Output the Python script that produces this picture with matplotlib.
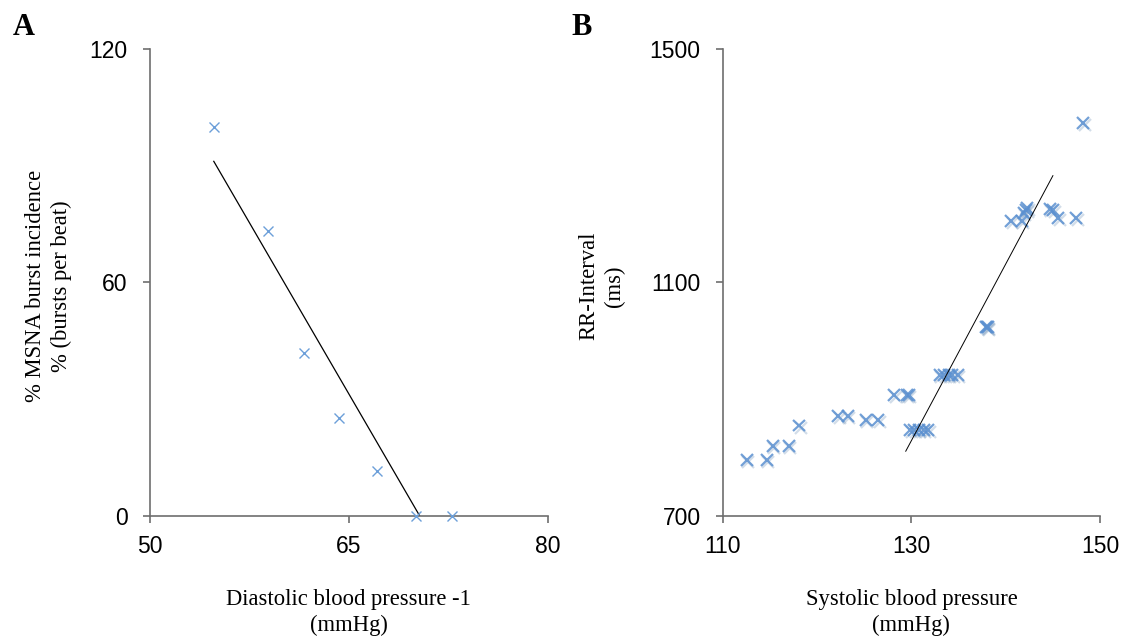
import numpy as np
import matplotlib
matplotlib.use("Agg")
from matplotlib import pyplot as plt
import matplotlib.patheffects as pe

# Panel A: diastolic pressure vs MSNA burst incidence
dbp = [54.81, 58.91, 61.6, 64.22, 67.13, 70.1, 72.75]
msna = [99.9, 73.3, 41.8, 25.1, 11.6, 0.0, 0.0]

# Panel B: systolic pressure vs RR-interval
sbp = [112.55, 114.67, 115.3, 117.0, 118.1, 122.26, 123.25, 125.16, 126.5,
       128.2, 129.5, 129.7, 129.9, 130.3, 130.8, 131.3, 131.8,
       132.99, 133.49, 133.95, 134.33, 134.9, 137.95, 138.05, 138.1,
       140.57, 141.72, 141.9, 142.18, 142.3, 144.67, 145.06, 145.56, 147.47, 148.24]
rri = [796, 796, 820, 820, 855, 872, 872, 865, 865,
       907, 907, 907, 847, 847, 847, 847, 847,
       942, 942, 942, 942, 942, 1024, 1023, 1024,
       1206, 1206, 1219, 1224, 1227, 1226, 1224, 1210, 1210, 1373]
# trendline end points as drawn in panel B
rri_fit_x = [129.4, 145.0]
rri_fit_y = [811, 1283]

a_xticks = [50, 65, 80]
a_yticks = [0, 60, 120]
b_xticks = [110, 130, 150]
b_yticks = [700, 1100, 1500]

SANS = ["Liberation Sans", "DejaVu Sans"]
SERIF = ["Liberation Serif", "DejaVu Serif"]
AXCOL = "#6e6e6e"


def StyleAxes(ax, xticks, yticks):
    """ Excel-like axes: left/bottom spines only, outward ticks """
    for side in ["top", "right"]:
        ax.spines[side].set_visible(False)
    for side in ["left", "bottom"]:
        ax.spines[side].set_color(AXCOL)
        ax.spines[side].set_linewidth(1.2)
    ax.set_xlim(xticks[0], xticks[-1])
    ax.set_ylim(yticks[0], yticks[-1])
    ax.set_xticks(xticks)
    ax.set_yticks(yticks)
    ax.tick_params(axis="both", direction="out", length=5, width=1.2, color=AXCOL,
                   labelsize=16.5)
    ax.tick_params(axis="x", pad=9)
    ax.tick_params(axis="y", pad=11)
    for lbl in ax.get_xticklabels() + ax.get_yticklabels():
        lbl.set_family(SANS)


fig = plt.figure(figsize=(11.27, 6.4), dpi=100)

# ---------------- Panel A ----------------
axA = fig.add_axes([0.1331, 0.19375, 0.3529, 0.7297])
StyleAxes(axA, a_xticks, a_yticks)
axA.plot(dbp, msna, linestyle="none", marker="x", markersize=6.8, mew=1.0,
         color="#6c9fd9", clip_on=False, zorder=3)
slope, icpt = np.polyfit(dbp, msna, 1)
fx = np.array([min(dbp), max(dbp)])
axA.plot(fx, slope*fx + icpt, color="black", lw=0.9, zorder=2)
axA.set_xlabel("Diastolic blood pressure -1\n(mmHg)", family=SERIF, fontsize=16.3,
               linespacing=1.3, va="center")
axA.xaxis.set_label_coords(0.5, -0.2068)
axA.set_ylabel("% MSNA burst incidence\n% (bursts per beat)", family=SERIF, fontsize=16.3,
               linespacing=1.3, va="center", ha="center")
axA.yaxis.set_label_coords(-0.2545, 0.492)

# ---------------- Panel B ----------------
axB = fig.add_axes([0.6413, 0.19375, 0.3348, 0.7297])
StyleAxes(axB, b_xticks, b_yticks)
axB.plot(sbp, rri, linestyle="none", marker="x", markersize=8.6, mew=1.6,
         color="#5b90d0", alpha=0.85, clip_on=False, zorder=3,
         path_effects=[pe.SimpleLineShadow(offset=(1, -1.5), shadow_color="#7f9fc0", alpha=0.35),
                       pe.Normal()])
axB.plot(rri_fit_x, rri_fit_y, color="black", lw=0.7, zorder=4)
axB.set_xlabel("Systolic blood pressure\n(mmHg)", family=SERIF, fontsize=16.3,
               linespacing=1.3, va="center")
axB.xaxis.set_label_coords(0.5, -0.2068)
axB.set_ylabel("RR-Interval\n(ms)", family=SERIF, fontsize=16.3,
               linespacing=1.3, va="center", ha="center")
axB.yaxis.set_label_coords(-0.3204, 0.492)

# panel letters
fig.text(0.0111, 1 - 35/640, "A", family=SERIF, fontsize=22, fontweight="bold", va="baseline")
fig.text(0.5067, 1 - 35/640, "B", family=SERIF, fontsize=22, fontweight="bold", va="baseline")

fig.savefig("out.png", dpi=100)
